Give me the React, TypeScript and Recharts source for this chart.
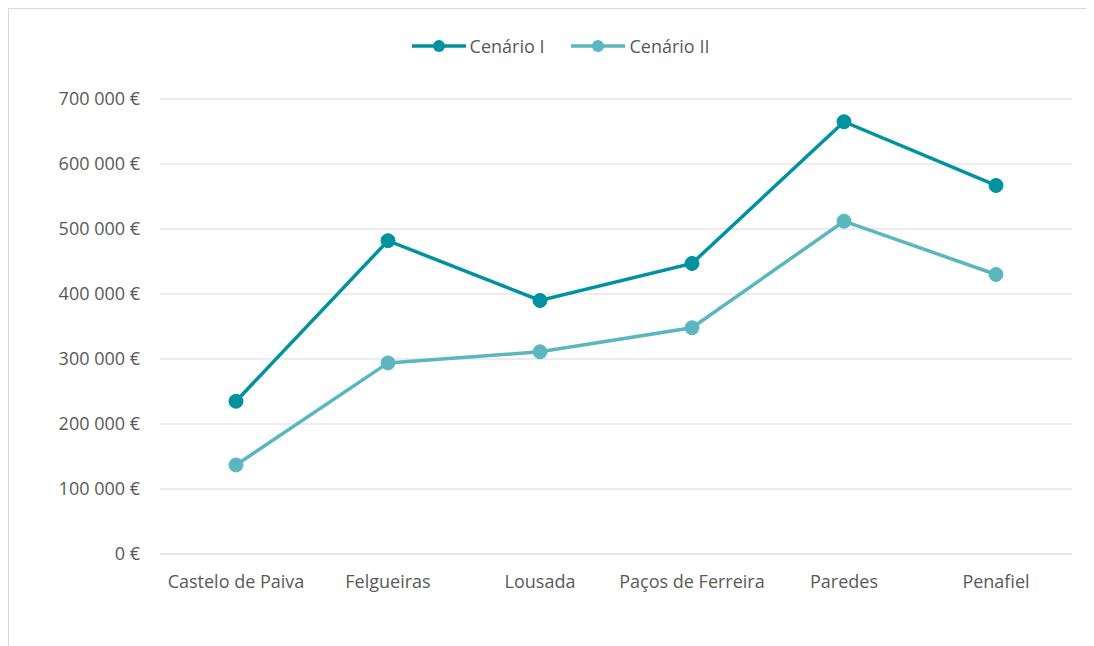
import React from "react";
import {
  LineChart,
  Line,
  XAxis,
  YAxis,
  CartesianGrid,
} from "recharts";

const municipios = [
  "Castelo de Paiva",
  "Felgueiras",
  "Lousada",
  "Paços de Ferreira",
  "Paredes",
  "Penafiel",
];
const cenarioI = [235000, 482000, 390000, 447000, 665000, 567000];
const cenarioII = [137000, 294000, 311000, 348000, 512000, 430000];
const yTicks = [0, 100000, 200000, 300000, 400000, 500000, 600000, 700000];

const COR_I = "#00929f";
const COR_II = "#5bb7bf";
const TEXTO = "#595959";
const FONT = "'Open Sans', sans-serif";

const data = municipios.map((m, i) => ({
  name: m,
  c1: cenarioI[i],
  c2: cenarioII[i],
}));

const formatEuro = (v: number) =>
  v === 0 ? "0 €" : `${String(v).replace(/\B(?=(\d{3})+(?!\d))/g, " ")} €`;

function LegendaLinha() {
  const items = [
    { label: "Cenário I", color: COR_I },
    { label: "Cenário II", color: COR_II },
  ];
  return (
    <div
      style={{
        position: "absolute",
        top: 25,
        left: 0,
        width: 1085,
        display: "flex",
        justifyContent: "center",
        alignItems: "center",
        fontFamily: FONT,
        fontSize: 18,
        color: TEXTO,
        paddingLeft: 18,
        boxSizing: "border-box",
      }}
    >
      {items.map((it, i) => (
        <div
          key={it.label}
          style={{ display: "flex", alignItems: "center", marginLeft: i ? 27 : 0 }}
        >
          <svg width={54} height={14} style={{ marginRight: 4 }}>
            <line x1={0} y1={7} x2={54} y2={7} stroke={it.color} strokeWidth={3.5} />
            <circle cx={27} cy={7} r={6} fill={it.color} />
          </svg>
          <span>{it.label}</span>
        </div>
      ))}
    </div>
  );
}

export default function App() {
  return (
    <div
      style={{
        position: "relative",
        width: 1085,
        height: 640,
        border: "1px solid #d9d9d9",
        background: "#fff",
      }}
    >
      <LegendaLinha />
      <LineChart
        width={1085}
        height={640}
        data={data}
        margin={{ top: 90, right: 22, left: 0, bottom: 0 }}
      >
        <CartesianGrid vertical={false} stroke="#d9d9d9" strokeWidth={1} />
        <XAxis
          dataKey="name"
          height={95}
          padding={{ left: 76, right: 76 }}
          axisLine={{ stroke: "#d9d9d9" }}
          tickLine={false}
          tickMargin={15}
          interval={0}
          tick={{ fill: TEXTO, fontSize: 18, fontFamily: FONT }}
        />
        <YAxis
          width={151}
          domain={[0, 700000]}
          ticks={yTicks}
          axisLine={false}
          tickLine={false}
          tickMargin={14}
          tickFormatter={formatEuro}
          tick={{ fill: TEXTO, fontSize: 18, fontFamily: FONT }}
        />
        <Line
          type="linear"
          dataKey="c1"
          name="Cenário I"
          stroke={COR_I}
          strokeWidth={3.5}
          dot={{ r: 7, fill: COR_I, stroke: COR_I, strokeWidth: 1 }}
          isAnimationActive={false}
        />
        <Line
          type="linear"
          dataKey="c2"
          name="Cenário II"
          stroke={COR_II}
          strokeWidth={3.5}
          dot={{ r: 7, fill: COR_II, stroke: COR_II, strokeWidth: 1 }}
          isAnimationActive={false}
        />
      </LineChart>
    </div>
  );
}
